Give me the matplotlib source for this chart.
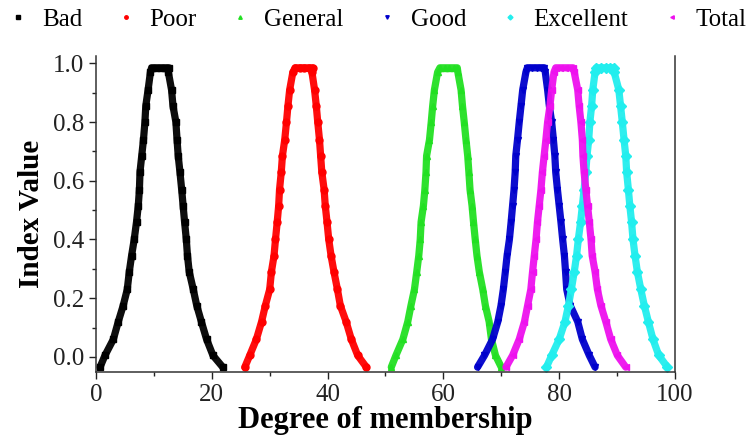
import matplotlib
matplotlib.use("Agg")
import matplotlib.pyplot as plt
from matplotlib.ticker import MultipleLocator

plt.rcParams['font.family'] = ['Liberation Serif', 'DejaVu Serif']

levels = [-0.035, 0.005, 0.06, 0.12, 0.175, 0.23, 0.29, 0.345, 0.40, 0.46,
          0.515, 0.57, 0.63, 0.685, 0.74, 0.80, 0.855, 0.91, 0.97]
top_y = 0.985

# left edge (bottom -> top), flat top, right edge (bottom -> top)
bad_left = [0.7, 1.55, 3.0, 3.85, 4.7, 5.4, 5.75, 6.15, 6.6, 7.0, 7.3, 7.5, 7.6, 7.9, 8.2, 8.45, 8.6, 9.0, 9.4]
bad_top = [9.6, 10.4, 11.2, 12.0, 12.6]
bad_right = [21.9, 20.2, 19.1, 18.2, 17.4, 16.8, 16.1, 15.8, 15.6, 15.3, 15.05, 14.8, 14.5, 14.2, 14.0, 13.8, 13.3, 13.05, 12.5]

poor_left = [25.7, 26.55, 27.7, 28.6, 29.25, 30.0, 30.3, 30.75, 31.0, 31.3, 31.55, 31.7, 32.0, 32.2, 32.6, 32.9, 33.15, 33.45, 34.0]
poor_top = [34.4, 35.2, 36.0, 36.8, 37.4]
poor_right = [46.7, 45.2, 44.1, 43.2, 42.2, 41.7, 41.1, 40.6, 40.2, 39.9, 39.6, 39.4, 39.0, 38.8, 38.6, 38.3, 38.05, 37.75, 37.3]

general_left = [51.0, 51.8, 53.0, 53.85, 54.4, 55.0, 55.4, 55.75, 56.0, 56.15, 56.55, 56.8, 57.0, 57.1, 57.6, 57.9, 58.15, 58.45, 59.0]
general_top = [59.4, 60.2, 61.0, 61.8, 62.4]
general_right = [70.0, 69.0, 68.3, 67.9, 67.25, 66.8, 66.2, 65.8, 65.5, 65.2, 64.95, 64.6, 64.4, 64.2, 63.9, 63.6, 63.3, 63.05, 62.5]

good_left = [65.9, 67.1, 68.5, 69.4, 69.95, 70.35, 70.7, 71.0, 71.4, 71.7, 71.95, 72.2, 72.4, 72.5, 72.8, 73.1, 73.4, 73.7, 74.25]
good_top = [74.5, 75.3, 76.1, 76.9, 77.4]
good_right = [86.2, 85.2, 84.0, 83.2, 81.9, 81.3, 81.1, 80.9, 80.6, 80.3, 80.0, 79.7, 79.4, 79.25, 79.0, 78.7, 78.3, 78.0, 77.6]

excellent_left = [77.8, 78.7, 80.0, 81.0, 81.6, 82.1, 82.6, 83.0, 83.3, 83.7, 84.0, 84.3, 84.6, 84.8, 85.1, 85.3, 85.6, 85.8, 86.2]
excellent_top = [86.4, 87.2, 88.0, 88.8, 89.4]
excellent_right = [98.7, 97.2, 96.2, 95.4, 94.7, 94.1, 93.5, 93.1, 92.75, 92.5, 92.2, 91.95, 91.65, 91.5, 91.2, 90.9, 90.6, 90.3, 89.5]

total_left = [70.8, 71.95, 73.1, 74.0, 74.55, 75.1, 75.4, 75.7, 76.0, 76.25, 76.55, 76.85, 77.1, 77.4, 77.7, 78.0, 78.4, 78.7, 79.1]
total_top = [79.4, 80.2, 81.0, 81.8, 82.4]
total_right = [91.5, 90.05, 88.9, 88.05, 87.2, 86.6, 86.2, 85.7, 85.5, 85.2, 84.9, 84.6, 84.3, 84.1, 84.0, 83.75, 83.45, 83.2, 82.6]

names = ['Bad', 'Poor', 'General', 'Good', 'Excellent', 'Total']
colors = ['black', '#ff0000', '#22e022', '#0000cc', '#22eeee', '#ee11ee']
markers = ['s', 'o', '^', 'v', 'D', '<']
edges = [(bad_left, bad_top, bad_right), (poor_left, poor_top, poor_right),
         (general_left, general_top, general_right), (good_left, good_top, good_right),
         (excellent_left, excellent_top, excellent_right), (total_left, total_top, total_right)]

fig = plt.figure(figsize=(7.47, 4.38), dpi=100)
ax = fig.add_axes([0.1285, 0.151, 0.7751, 0.721])

for name, c, m, (left, top, right) in zip(names, colors, markers, edges):
    xs = left + top + right[::-1]
    ys = levels + [top_y] * len(top) + levels[::-1]
    ax.plot(xs, ys, color=c, lw=5.2, solid_joinstyle='round', solid_capstyle='round', alpha=0.95)
    ax.plot(xs, ys, ls='none', marker=m, ms=5, color=c, mec=c, label=name)

ax.set_xlim(0, 100)
ax.set_ylim(-0.051, 1.025)
ax.xaxis.set_major_locator(MultipleLocator(20))
ax.xaxis.set_minor_locator(MultipleLocator(10))
ax.yaxis.set_major_locator(MultipleLocator(0.2))
ax.yaxis.set_minor_locator(MultipleLocator(0.1))
ax.yaxis.set_major_formatter(plt.FuncFormatter(lambda v, p: f'{v:.1f}'))
ax.tick_params(which='both', direction='out', labelsize=18, width=1.0, colors='#222222')
ax.tick_params(which='major', length=5)
ax.tick_params(which='minor', length=3)
ax.spines['top'].set_visible(False)
for s in ['left', 'bottom', 'right']:
    ax.spines[s].set_linewidth(1.1)
    ax.spines[s].set_color('#333333')

ax.set_xlabel('Degree of membership', fontsize=22, fontweight='bold', labelpad=0)
ax.set_ylabel('Index Value', fontsize=21, fontweight='bold', labelpad=6)

fig.legend(loc='upper left', bbox_to_anchor=(0.006, 0.99), ncol=6, frameon=False,
           fontsize=18, markerscale=0.5, handlelength=0.8, handletextpad=0.55,
           columnspacing=1.34, borderpad=0.15, borderaxespad=0)

fig.savefig('out.png', dpi=100)
